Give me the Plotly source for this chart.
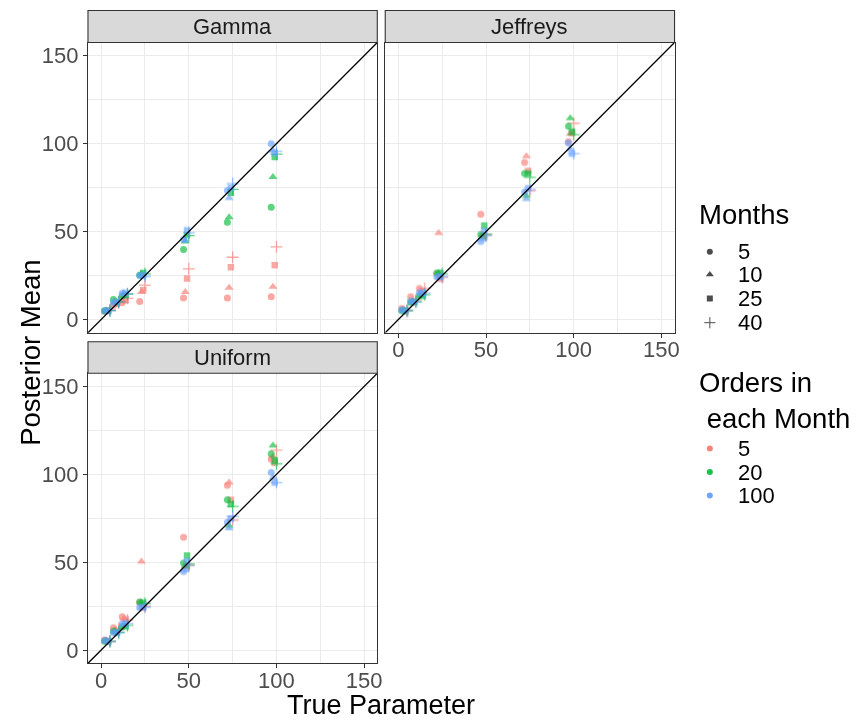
import plotly.graph_objects as go

# ---- data -------------------------------------------------------------
true_params = [5, 10, 15, 25, 50, 75, 100]
months = [5, 10, 25, 40]
orders = [5, 20, 100]
priors = ["Gamma", "Jeffreys", "Uniform"]

# posterior means: rows = months (5, 10, 25, 40), columns = true_params
gamma_orders5 = [
    [4.5, 8.0, 9.5, 10.2, 12.3, 12.3, 12.9],
    [5.0, 8.5, 10.5, 15.7, 15.7, 18.0, 18.6],
    [5.0, 9.0, 11.0, 16.7, 23.3, 29.7, 30.9],
    [5.5, 9.5, 12.0, 19.5, 28.8, 35.4, 41.3],
]
gamma_orders20 = [
    [5.0, 11.4, 13.3, 25.2, 39.8, 55.3, 63.8],
    [5.0, 10.0, 13.5, 26.0, 44.3, 58.1, 81.0],
    [5.0, 10.0, 14.0, 26.5, 48.0, 72.0, 92.4],
    [5.0, 10.0, 14.5, 26.0, 47.7, 74.0, 94.0],
]
gamma_orders100 = [
    [5.0, 9.5, 15.0, 25.2, 45.5, 73.3, 100.0],
    [5.0, 10.0, 15.2, 24.6, 44.9, 69.1, 96.0],
    [5.0, 10.0, 15.0, 25.0, 50.7, 74.8, 94.7],
    [5.0, 10.0, 14.6, 24.6, 49.3, 77.3, 95.6],
]

jeffreys_orders5 = [
    [6.2, 13.0, 17.7, 26.0, 59.9, 89.3, 101.0],
    [5.5, 11.0, 16.0, 49.2, 48.5, 92.8, 105.6],
    [5.0, 10.0, 16.0, 23.2, 47.2, 84.5, 106.0],
    [5.0, 11.0, 17.7, 24.0, 48.2, 73.2, 111.6],
]
jeffreys_orders20 = [
    [5.0, 9.6, 13.3, 26.5, 48.4, 83.0, 109.9],
    [5.0, 10.0, 13.5, 26.5, 47.0, 70.2, 114.5],
    [5.0, 10.0, 13.5, 26.5, 53.4, 83.0, 106.9],
    [5.0, 10.0, 14.0, 26.0, 48.5, 80.8, 105.1],
]
jeffreys_orders100 = [
    [5.6, 10.4, 15.2, 24.1, 44.4, 72.3, 100.3],
    [5.0, 10.0, 15.0, 24.0, 45.7, 68.5, 97.0],
    [5.0, 10.0, 15.0, 24.5, 50.4, 74.6, 94.3],
    [5.0, 10.0, 15.0, 24.5, 47.5, 74.0, 94.3],
]

uniform_orders5 = [
    [5.7, 12.7, 18.9, 27.0, 64.2, 93.8, 108.5],
    [5.5, 11.5, 18.0, 50.4, 48.0, 95.3, 110.0],
    [5.0, 11.0, 17.5, 24.2, 47.8, 85.5, 106.6],
    [5.0, 12.0, 17.0, 25.0, 48.5, 74.0, 113.8],
]
uniform_orders20 = [
    [5.0, 10.7, 13.2, 27.4, 49.6, 85.5, 111.7],
    [5.0, 10.5, 13.5, 27.0, 47.5, 70.7, 116.4],
    [5.0, 10.0, 13.5, 27.0, 53.8, 83.0, 108.1],
    [5.0, 10.0, 14.0, 26.5, 49.0, 81.7, 106.0],
]
uniform_orders100 = [
    [5.5, 10.0, 15.0, 24.2, 44.7, 72.7, 101.0],
    [5.0, 10.0, 15.0, 24.0, 45.5, 69.3, 98.0],
    [5.0, 10.0, 15.0, 24.5, 50.6, 74.9, 95.3],
    [5.0, 10.0, 15.0, 24.5, 48.0, 76.0, 95.3],
]

axis_ticks = [0, 50, 100, 150]
axis_minor = [25, 75, 125]

# ---- styling ----------------------------------------------------------
W, H = 858, 721
FONT = "Liberation Sans, Arial, Helvetica, sans-serif"
order_colors = ["#F8766D", "#00BA38", "#619CFF"]
month_symbols = ["circle", "triangle-up", "square", "cross-thin"]
month_sizes = [7, 8, 6.5, 8.5]
month_dodge = [-3.0, -2.0, -1.0, 0.0]
POINT_ALPHA = 0.9
AX_RANGE = [-7.5, 157.5]

panel_data = {
    "Gamma": [gamma_orders5, gamma_orders20, gamma_orders100],
    "Jeffreys": [jeffreys_orders5, jeffreys_orders20, jeffreys_orders100],
    "Uniform": [uniform_orders5, uniform_orders20, uniform_orders100],
}

# panel boxes in pixels: left, right, top, bottom (plot area), strip top
panel_box = {
    "Gamma": (88.5, 379.5, 42.5, 332.7, 10.5),
    "Jeffreys": (387.5, 678.5, 42.5, 332.7, 10.5),
    "Uniform": (88.5, 379.5, 373.3, 663.3, 341.7),
}
axis_ids = {"Gamma": ("x", "y"), "Jeffreys": ("x2", "y2"), "Uniform": ("x3", "y3")}
show_x = {"Gamma": False, "Jeffreys": True, "Uniform": True}
show_y = {"Gamma": True, "Jeffreys": False, "Uniform": True}


def fx(px):
    return px / W


def fy(py):
    return 1 - py / H


fig = go.Figure()

for prior in priors:
    xa, ya = axis_ids[prior]
    for oi, series in enumerate(panel_data[prior]):
        xs, ys, syms, sizes, lws = [], [], [], [], []
        for mi, row in enumerate(series):
            for tp, val in zip(true_params, row):
                xs.append(tp + month_dodge[mi])
                ys.append(val)
                syms.append(month_symbols[mi])
                sizes.append(month_sizes[mi])
                lws.append(1.3 if month_symbols[mi] == "cross-thin" else 0)
        fig.add_trace(go.Scatter(
            x=xs, y=ys, mode="markers", xaxis=xa, yaxis=ya,
            showlegend=False, hoverinfo="skip", opacity=POINT_ALPHA,
            marker=dict(symbol=syms, size=sizes, color=order_colors[oi],
                        line=dict(width=lws, color=order_colors[oi])),
        ))
    # identity reference line
    fig.add_trace(go.Scatter(
        x=AX_RANGE, y=AX_RANGE, mode="lines", xaxis=xa, yaxis=ya,
        showlegend=False, hoverinfo="skip",
        line=dict(color="black", width=1.3),
    ))

layout = dict(
    width=W, height=H, margin=dict(l=0, r=0, t=0, b=0),
    paper_bgcolor="white", plot_bgcolor="white",
    font=dict(family=FONT, color="black"),
    showlegend=False,
)

shapes = []
annotations = []
for prior in priors:
    left, right, top, bottom, stop = panel_box[prior]
    xa, ya = axis_ids[prior]
    xkey = "xaxis" + xa[1:]
    ykey = "yaxis" + ya[1:]
    common = dict(
        range=AX_RANGE, tickvals=axis_ticks, showgrid=True,
        gridcolor="#EBEBEB", gridwidth=1.1, zeroline=False,
        showline=True, mirror=True, linecolor="#333333", linewidth=1.1,
        ticklen=4, tickcolor="#333333", tickwidth=1.1,
        tickfont=dict(family=FONT, size=22, color="#4D4D4D"),
        minor=dict(tickvals=axis_minor, showgrid=True,
                   gridcolor="#EBEBEB", gridwidth=0.55, ticks=""),
        fixedrange=True,
    )
    layout[xkey] = dict(common, domain=[fx(left), fx(right)], anchor=ya,
                        ticks="outside" if show_x[prior] else "",
                        showticklabels=show_x[prior], ticklabelstandoff=-7)
    layout[ykey] = dict(common, domain=[fy(bottom), fy(top)], anchor=xa,
                        ticks="outside" if show_y[prior] else "",
                        showticklabels=show_y[prior])
    # facet strip
    shapes.append(dict(type="rect", xref="paper", yref="paper",
                       x0=fx(left), x1=fx(right), y0=fy(top), y1=fy(stop),
                       fillcolor="#D9D9D9", line=dict(color="#333333", width=1.1),
                       layer="above"))
    annotations.append(dict(text=prior, xref="paper", yref="paper",
                            x=fx((left + right) / 2), y=fy((top + stop) / 2),
                            xanchor="center", yanchor="middle", showarrow=False,
                            font=dict(family=FONT, size=22, color="#1A1A1A")))

# axis titles
annotations.append(dict(text="True Parameter", xref="paper", yref="paper",
                        x=fx(383), y=0, xanchor="center", yanchor="bottom",
                        borderpad=0, showarrow=False,
                        font=dict(family=FONT, size=27)))
annotations.append(dict(text="Posterior Mean", xref="paper", yref="paper",
                        x=fx(30), y=fy(353), xanchor="center", yanchor="middle",
                        textangle=-90, showarrow=False,
                        font=dict(family=FONT, size=27.5)))

# ---- legends (keys on a small hidden axis measured in pixels) ----------
LEG_L, LEG_R, LEG_T, LEG_B = 690, 858, 190, 520
layout["xaxis4"] = dict(domain=[fx(LEG_L), fx(LEG_R)], range=[LEG_L, LEG_R],
                        visible=False, fixedrange=True, anchor="y4")
layout["yaxis4"] = dict(domain=[fy(LEG_B), fy(LEG_T)], range=[LEG_B, LEG_T],
                        visible=False, fixedrange=True, anchor="x4")

key_x = 714
label_x = 740
month_rows = [251.7, 274.5, 298.5, 322.7]
order_rows = [448.5, 472.0, 495.5]

fig.add_trace(go.Scatter(
    x=[key_x] * len(months), y=month_rows, mode="markers", xaxis="x4", yaxis="y4",
    showlegend=False, hoverinfo="skip",
    marker=dict(symbol=month_symbols, size=[6, 7, 6, 8], color="black",
                line=dict(width=[0, 0, 0, 1], color="black")),
))
fig.add_trace(go.Scatter(
    x=[key_x] * len(orders), y=order_rows, mode="markers", xaxis="x4", yaxis="y4",
    showlegend=False, hoverinfo="skip", opacity=POINT_ALPHA,
    marker=dict(symbol="circle", size=6, color=order_colors),
))

annotations.append(dict(text="Months", xref="paper", yref="paper",
                        x=fx(701), y=fy(215), xanchor="left", yanchor="middle",
                        showarrow=False, font=dict(family=FONT, size=27.5)))
annotations.append(dict(text="Orders in<br>\u00a0each Month", xref="paper", yref="paper",
                        x=fx(701), y=fy(400), xanchor="left", yanchor="middle",
                        align="left", showarrow=False,
                        font=dict(family=FONT, size=27.5)))
for m, yy in zip(months, month_rows):
    annotations.append(dict(text=str(m), xref="paper", yref="paper",
                            x=fx(label_x), y=fy(yy), xanchor="left", yanchor="middle",
                            showarrow=False, font=dict(family=FONT, size=22)))
for o, yy in zip(orders, order_rows):
    annotations.append(dict(text=str(o), xref="paper", yref="paper",
                            x=fx(label_x), y=fy(yy), xanchor="left", yanchor="middle",
                            showarrow=False, font=dict(family=FONT, size=22)))

layout["shapes"] = shapes
layout["annotations"] = annotations
fig.update_layout(**layout)

fig.write_html("out.html")
